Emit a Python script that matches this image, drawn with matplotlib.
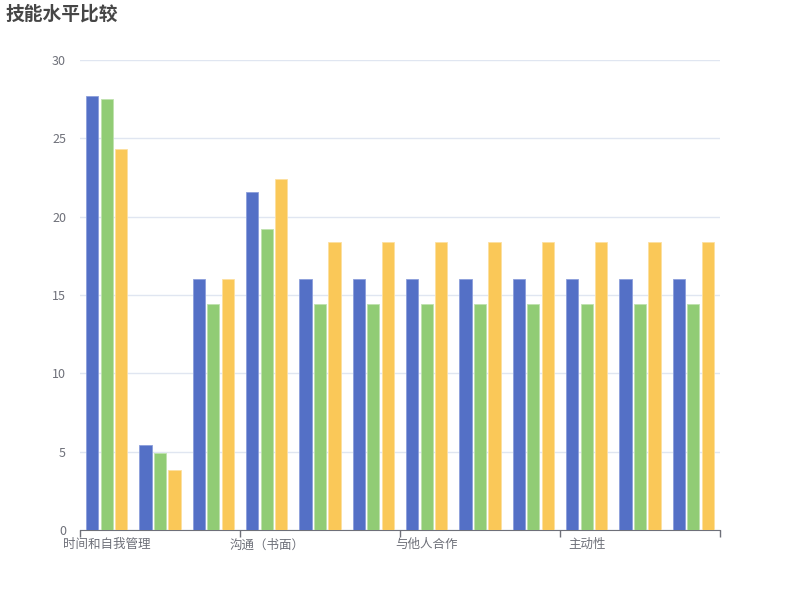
import numpy as np
import matplotlib
matplotlib.use("Agg")
import matplotlib.pyplot as plt

plt.rcParams['font.family'] = ['Noto Sans CJK SC', 'DejaVu Sans']

# categories (only every third name is shown on the axis)
categories = ["时间和自我管理", "", "", "沟通（书面）", "", "",
              "与他人合作", "", "", "主动性", "", ""]
series_a = [27.7, 5.4, 16.0, 21.6, 16.0, 16.0, 16.0, 16.0, 16.0, 16.0, 16.0, 16.0]
series_b = [27.5, 4.9, 14.4, 19.2, 14.4, 14.4, 14.4, 14.4, 14.4, 14.4, 14.4, 14.4]
series_c = [24.3, 3.8, 16.0, 22.4, 18.4, 18.4, 18.4, 18.4, 18.4, 18.4, 18.4, 18.4]
colors = ["#5470c6", "#91cc75", "#fac858"]
edges = ["#8c9fdc", "#bfe2ae", "#fde0a0"]

fig = plt.figure(figsize=(8, 6), dpi=100)
ax = fig.add_axes([0.1, 0.1167, 0.8, 0.7833])

x = np.arange(len(categories))
w = 0.23
step = 0.27
for i, vals in enumerate([series_a, series_b, series_c]):
    ax.bar(x + (i - 1) * step, vals, width=w, color=colors[i],
           edgecolor=edges[i], linewidth=0.6, zorder=3)

ax.set_xlim(-0.5, len(categories) - 0.5)
ax.set_ylim(0, 30)
ax.set_yticks(np.arange(0, 31, 5))
ax.yaxis.grid(True, color="#E0E6F1", linewidth=1, zorder=0)
ax.tick_params(axis="y", length=0, labelsize=9, colors="#6E7079", pad=10)

# boundary ticks every 3 categories, labels on category centres
ax.set_xticks(np.arange(-0.5, len(categories), 3))
ax.set_xticklabels([])
ax.tick_params(axis="x", which="major", length=5, width=1, color="#6E7079")
label_pos = [i for i, c in enumerate(categories) if c]
ax.set_xticks(label_pos, minor=True)
ax.set_xticklabels([categories[i] for i in label_pos], minor=True)
ax.tick_params(axis="x", which="minor", length=0, labelsize=9,
               colors="#6E7079", pad=6)

for s in ["top", "right", "left"]:
    ax.spines[s].set_visible(False)
ax.spines["bottom"].set_color("#6E7079")

fig.text(5 / 800, 1 - 5 / 600, "技能水平比较", fontsize=13.5, fontweight="bold",
         color="#464646", ha="left", va="top")

fig.savefig("out.png", dpi=100)
